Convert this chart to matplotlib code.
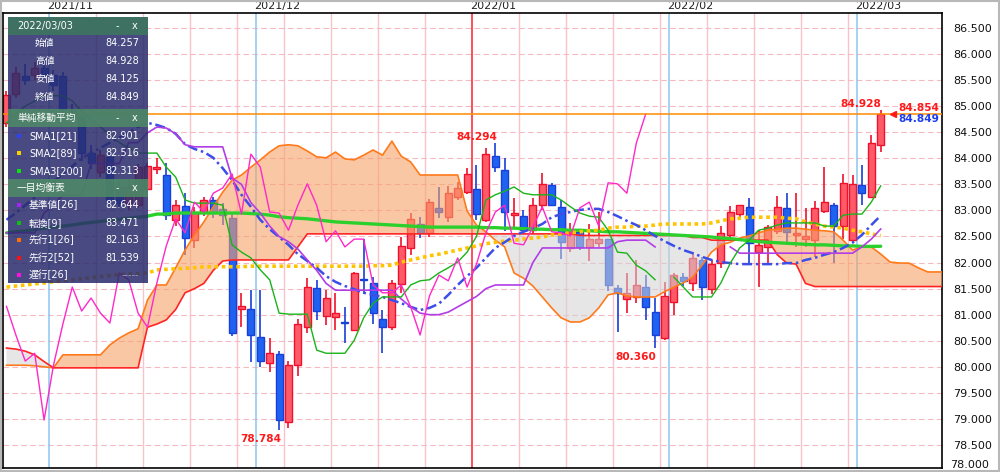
import numpy as np
import pandas as pd
import matplotlib

matplotlib.use("Agg")
import matplotlib.pyplot as plt
from matplotlib.patches import Rectangle
from matplotlib.ticker import FormatStrFormatter

plt.rcParams["font.family"] = ["DejaVu Sans", "Noto Sans CJK JP"]

nan = float("nan")

# trading days (weekdays) 2021/10/25 .. 2022/03/03
dates = pd.bdate_range("2021-10-25", "2022-03-03")

opens = [84.68, 85.23, 85.58, 85.60, 85.73, 85.60, 85.58, 84.93, 84.79, 84.10,
         83.74, 84.03, 83.45, 83.14, 83.10, 83.41, 83.79, 83.68, 82.82, 83.09,
         82.43, 82.97, 83.20, 83.03, 82.86, 81.10, 81.11, 80.57, 80.07, 80.25,
         78.94, 80.04, 80.77, 81.51, 80.98, 80.95, 80.86, 80.71, 81.68, 81.61,
         80.92, 80.76, 81.59, 82.28, 82.74, 82.57, 83.05, 82.87, 83.26, 83.35,
         83.41, 82.82, 84.05, 83.78, 82.91, 82.89, 82.62, 83.10, 83.49, 83.07,
         82.28, 82.59, 82.30, 82.37, 82.45, 81.51, 81.30, 81.34, 81.53, 81.05,
         80.55, 81.24, 81.72, 81.61, 82.05, 81.49, 81.99, 82.53, 82.93, 83.07,
         82.20, 82.30, 82.61, 83.05, 82.53, 82.45, 82.43, 82.99, 83.10, 82.70,
         82.43, 83.49, 83.26, 84.257]
highs = [85.30, 85.75, 85.80, 85.85, 85.95, 85.70, 85.65, 85.05, 84.95, 84.25,
         84.15, 84.10, 83.55, 83.60, 83.90, 83.91, 84.00, 83.91, 83.20, 83.33,
         83.07, 83.25, 83.25, 83.15, 82.95, 81.42, 81.47, 81.47, 80.55, 80.30,
         80.12, 80.92, 81.70, 81.67, 81.47, 81.42, 81.15, 81.82, 82.45, 81.72,
         81.09, 81.67, 82.49, 82.95, 82.88, 83.22, 83.45, 83.47, 83.55, 83.82,
         83.87, 84.20, 84.294, 84.00, 83.24, 83.00, 83.24, 83.72, 83.52, 83.20,
         82.75, 82.65, 82.74, 82.97, 82.45, 81.57, 81.80, 82.05, 81.76, 81.32,
         81.63, 81.80, 81.80, 82.20, 82.11, 82.05, 82.70, 83.09, 83.10, 83.24,
         82.62, 82.72, 83.27, 83.33, 83.33, 83.05, 83.18, 83.83, 83.14, 83.70,
         83.68, 83.87, 84.45, 84.928]
lows = [84.60, 85.15, 85.40, 85.50, 85.55, 85.30, 84.85, 84.60, 83.95, 83.80,
        83.65, 83.10, 83.05, 83.00, 83.05, 83.33, 83.70, 82.82, 82.70, 82.14,
        82.28, 82.90, 82.85, 82.72, 80.60, 80.76, 80.09, 80.00, 79.90, 78.784,
        78.83, 79.82, 80.65, 80.90, 80.80, 80.71, 80.46, 80.69, 81.40, 80.82,
        80.26, 80.70, 81.42, 82.14, 82.47, 82.49, 82.85, 82.78, 83.20, 83.31,
        82.82, 82.78, 83.74, 82.60, 82.66, 82.55, 82.55, 83.00, 83.10, 82.07,
        82.20, 82.25, 82.03, 82.30, 81.46, 80.67, 81.03, 81.22, 80.90, 80.36,
        80.51, 81.00, 81.55, 81.45, 81.28, 81.40, 81.90, 82.45, 82.85, 81.99,
        81.53, 81.95, 82.55, 82.34, 82.30, 82.30, 82.11, 82.95, 81.99, 82.45,
        82.40, 83.10, 83.24, 84.125]
closes = [85.21, 85.64, 85.50, 85.73, 85.62, 85.40, 84.93, 84.80, 84.10, 83.91,
          84.06, 83.20, 83.14, 83.45, 83.83, 83.85, 83.83, 82.91, 83.10, 82.47,
          82.97, 83.20, 82.97, 82.91, 80.65, 81.16, 80.61, 80.11, 80.26, 78.98,
          80.03, 80.82, 81.53, 81.07, 81.32, 81.03, 80.84, 81.80, 81.67, 81.03,
          80.76, 81.61, 82.32, 82.84, 82.57, 83.16, 82.97, 83.33, 83.43, 83.70,
          82.93, 84.08, 83.83, 82.97, 82.95, 82.62, 83.10, 83.51, 83.10, 82.40,
          82.61, 82.30, 82.45, 82.45, 81.57, 81.42, 81.42, 81.57, 81.15, 80.61,
          81.36, 81.76, 81.65, 82.09, 81.53, 81.97, 82.57, 82.97, 83.10, 82.37,
          82.34, 82.68, 83.07, 82.59, 82.57, 82.51, 83.05, 83.16, 82.70, 83.53,
          83.51, 83.33, 84.29, 84.849]

sma1 = [82.82, 82.95, 83.10, 83.25, 83.40, 83.55, 83.70, 83.85, 84.00, 84.10,
        84.20, 84.30, 84.40, 84.50, 84.60, 84.68, 84.64, 84.58, 84.47, 84.27,
        84.18, 84.12, 84.01, 83.81, 83.58, 83.30, 83.07, 82.82, 82.64, 82.49,
        82.34, 82.16, 82.03, 81.90, 81.74, 81.63, 81.55, 81.49, 81.42, 81.38,
        81.34, 81.28, 81.22, 81.15, 81.09, 81.13, 81.21, 81.38, 81.57, 81.74,
        81.90, 82.09, 82.28, 82.39, 82.51, 82.59, 82.66, 82.74, 82.87, 82.93,
        82.97, 83.01, 83.03, 83.03, 82.97, 82.89, 82.80, 82.72, 82.62, 82.51,
        82.41, 82.32, 82.24, 82.18, 82.11, 82.05, 82.01, 81.99, 81.97, 81.97,
        81.97, 81.97, 81.97, 81.99, 81.99, 82.05, 82.09, 82.15, 82.20, 82.28,
        82.38, 82.53, 82.72, 82.901]
sma2 = [81.53, 81.55, 81.57, 81.59, 81.61, 81.63, 81.65, 81.67, 81.69, 81.71,
        81.73, 81.75, 81.77, 81.78, 81.79, 81.80, 81.86, 81.87, 81.88, 81.89,
        81.90, 81.92, 81.92, 81.92, 81.92, 81.92, 81.93, 81.93, 81.93, 81.93,
        81.93, 81.93, 81.93, 81.93, 81.93, 81.93, 81.93, 81.93, 81.93, 81.94,
        81.94, 81.95, 82.01, 82.05, 82.09, 82.13, 82.16, 82.20, 82.24, 82.28,
        82.32, 82.36, 82.39, 82.41, 82.43, 82.45, 82.47, 82.49, 82.53, 82.55,
        82.57, 82.59, 82.61, 82.62, 82.66, 82.68, 82.68, 82.70, 82.70, 82.72,
        82.74, 82.74, 82.74, 82.74, 82.74, 82.76, 82.80, 82.84, 82.85, 82.87,
        82.87, 82.87, 82.87, 82.85, 82.84, 82.78, 82.74, 82.70, 82.68, 82.66,
        82.62, 82.59, 82.55, 82.516]
sma3 = [82.57, 82.59, 82.61, 82.63, 82.66, 82.68, 82.70, 82.72, 82.75, 82.77,
        82.79, 82.81, 82.83, 82.85, 82.87, 82.89, 82.93, 82.93, 82.95, 82.95,
        82.95, 82.95, 82.95, 82.95, 82.95, 82.95, 82.94, 82.93, 82.91, 82.88,
        82.86, 82.85, 82.84, 82.82, 82.80, 82.78, 82.77, 82.76, 82.75, 82.74,
        82.73, 82.72, 82.71, 82.70, 82.69, 82.68, 82.68, 82.68, 82.68, 82.68,
        82.68, 82.67, 82.67, 82.66, 82.66, 82.65, 82.64, 82.64, 82.63, 82.63,
        82.62, 82.62, 82.61, 82.60, 82.59, 82.59, 82.58, 82.57, 82.56, 82.55,
        82.54, 82.53, 82.52, 82.51, 82.50, 82.49, 82.47, 82.46, 82.44, 82.42,
        82.40, 82.39, 82.38, 82.37, 82.36, 82.35, 82.34, 82.34, 82.33, 82.32,
        82.32, 82.31, 82.31, 82.313]

kijun = [82.57, 82.57, 82.57, 82.57, 82.95, 83.10, 83.30, 83.30, 83.30, 83.90,
         83.90, 83.90, 83.90, 84.30, 84.30, 84.49, 84.60, 84.58, 84.47, 84.26,
         84.22, 84.22, 84.22, 84.22, 83.62, 83.50, 83.15, 82.95, 82.70, 82.50,
         82.40, 82.26, 82.05, 81.85, 81.60, 81.47, 81.47, 81.47, 81.47, 81.47,
         81.47, 81.47, 81.30, 81.15, 81.03, 81.00, 81.00, 81.05, 81.15, 81.25,
         81.35, 81.50, 81.57, 81.57, 81.57, 81.57, 82.00, 82.28, 82.28, 82.28,
         82.28, 82.28, 82.28, 82.28, 82.28, 82.40, 82.43, 82.43, 82.43, 82.30,
         nan, nan, nan, nan, nan, nan, nan, 82.30, 82.18, 82.18,
         82.18, 82.18, 82.18, 82.18, 82.18, 82.18, 82.18, 82.18, 82.18, 82.18,
         82.18, 82.30, 82.45, 82.644]
tenkan = [84.68, 84.85, 85.00, 85.10, 85.20, 85.20, 85.20, 85.10, 84.90, 84.75,
          84.60, 84.45, 84.30, 84.20, 84.10, 84.10, 84.10, 83.83, 83.64, 83.20,
          83.14, 83.14, 83.14, 83.10, 82.34, 82.20, 82.09, 81.86, 81.67, 81.03,
          81.01, 81.01, 81.01, 80.32, 80.26, 80.26, 80.26, 80.51, 80.94, 81.22,
          81.34, 81.34, 81.34, 81.57, 81.65, 81.67, 81.80, 81.90, 82.01, 82.20,
          82.50, 83.20, 83.30, 83.37, 83.45, 83.33, 83.30, 83.30, 83.30, 83.20,
          83.07, 82.95, 82.89, 82.87, 82.62, 82.20, 82.18, 81.95, 81.84, 81.67,
          nan, 81.72, 81.53, 81.34, 81.34, 81.34, 81.61, 81.99, 82.28, 82.43,
          82.62, 82.66, 82.72, 82.76, 82.76, 82.76, 82.76, 82.70, 82.70, 82.91,
          82.93, 82.93, 83.16, 83.471]
# leading spans, plotted from bar 0 up to bar 100 (cloud runs past the last candle)
senkou_a = [80.03, 80.03, 80.03, 80.02, 80.00, 79.98, 80.23, 80.23, 80.23, 80.23,
            80.23, 80.42, 80.55, 80.65, 80.73, 81.28, 81.57, 81.57, 81.90, 82.24,
            82.53, 82.78, 83.07, 83.35, 83.58, 83.68, 83.83, 83.97, 84.12, 84.24,
            84.26, 84.24, 84.14, 84.03, 84.01, 84.12, 83.99, 83.97, 84.06, 84.16,
            84.06, 84.33, 84.04, 83.93, 83.68, 83.68, 83.68, 83.68, 83.68, 82.99,
            82.72, 82.59, 82.43, 82.30, 81.80, 81.70, 81.55, 81.34, 81.13, 80.94,
            80.86, 80.86, 80.94, 81.13, 81.38, 81.42, 81.36, 81.34, 81.34, 81.34,
            81.44, 81.53, 81.61, 81.72, 81.95, 82.20, 82.34, 82.39, 82.47, 82.51,
            82.57, 82.62, 82.64, 82.66, 82.66, 82.64, 82.62, 82.61, 82.59, 82.43,
            82.24, 82.30, 82.30, 82.163, 82.01, 81.99, 81.99, 81.90, 81.82, 81.82,
            81.82]
senkou_b = [80.36, 80.34, 80.30, 80.23, 80.10, 79.98, 79.98, 79.98, 79.98, 79.98,
            79.98, 79.98, 79.98, 79.98, 79.98, 80.76, 80.82, 80.90, 81.10, 81.42,
            81.50, 81.60, 81.85, 82.03, 82.05, 82.05, 82.05, 82.05, 82.05, 82.05,
            82.05, 82.30, 82.55, 82.55, 82.55, 82.55, 82.55, 82.55, 82.55, 82.55,
            82.55, 82.55, 82.55, 82.55, 82.55, 82.55, 82.55, 82.55, 82.55, 82.55,
            82.55, 82.55, 82.55, 82.55, 82.55, 82.55, 82.55, 82.55, 82.55, 82.55,
            82.55, 82.52, 82.52, 82.52, 82.52, 82.52, 82.52, 82.52, 82.52, 82.52,
            82.52, 82.52, 82.52, 82.48, 82.48, 82.43, 82.43, 82.43, 82.43, 82.43,
            82.43, 82.43, 82.15, 81.99, 81.97, 81.60, 81.54, 81.54, 81.54, 81.54,
            81.54, 81.54, 81.54, 81.539, 81.54, 81.54, 81.54, 81.54, 81.54, 81.54,
            81.54]
chikou_shift = 25

month_names = ["2021/11", "2021/12", "2022/01", "2022/02", "2022/03"]
y_ticks = [78.5, 79.0, 79.5, 80.0, 80.5, 81.0, 81.5, 82.0, 82.5, 83.0, 83.5,
           84.0, 84.5, 85.0, 85.5, 86.0, 86.5]

UP_FILL, UP_EDGE = "#ff5a68", "#f0102c"
DN_FILL, DN_EDGE = "#1f62f2", "#1840d6"

fig = plt.figure(figsize=(10, 4.72), dpi=100)
ax = fig.add_axes([0.003, 0.0085, 0.939, 0.964])

x = np.arange(len(closes))
o, h, l, c = map(np.array, (opens, highs, lows, closes))
n = len(c)

# vertical grid: mondays pink, month starts blue, new year red
month_start = [i for i in range(1, n) if dates[i].month != dates[i - 1].month]
for i in range(n):
    if i in month_start:
        col = "#ff1e2e" if dates[i].month == 1 else "#8cc6f0"
        ax.axvline(i - 0.5, color=col, lw=1.1, zorder=1)
    elif dates[i].weekday() == 0:
        ax.axvline(i - 0.5, color="#f8c4cc", lw=1.0, zorder=0.8)
for v in y_ticks:
    ax.axhline(v, color="#f6b8c2", lw=0.8, ls=(0, (5, 3)), zorder=0.8)

# candles
up = c >= o
ax.vlines(x[up], l[up], h[up], color=UP_EDGE, lw=1.2, zorder=2)
ax.vlines(x[~up], l[~up], h[~up], color=DN_EDGE, lw=1.2, zorder=2)
lo = np.minimum(o, c)
hh = np.maximum(np.abs(c - o), 0.018)
ax.bar(x[up], hh[up], bottom=lo[up], width=0.76, color=UP_FILL,
       edgecolor=UP_EDGE, lw=1.0, zorder=2.5)
ax.bar(x[~up], hh[~up], bottom=lo[~up], width=0.76, color=DN_FILL,
       edgecolor=DN_EDGE, lw=1.0, zorder=2.5)

# ichimoku cloud
xs = np.arange(len(senkou_a))
a = np.array(senkou_a)
b = np.array(senkou_b)
ax.fill_between(xs, a, b, where=a >= b, interpolate=True, color="#f7a26a",
                alpha=0.6, lw=0, zorder=3)
ax.fill_between(xs, a, b, where=a < b, interpolate=True, color="#d2d2d2",
                alpha=0.55, lw=0, zorder=3)
ax.plot(xs, a, color="#ff7a1a", lw=1.2, zorder=4)
ax.plot(xs, b, color="#ff2424", lw=1.2, zorder=4)

# moving averages
ax.plot(x, sma3, color="#2cd02c", lw=2.4, zorder=4, solid_capstyle="round")
ax.plot(x, sma2, color="#ffc400", lw=2.6, ls=(0, (1, 1)), zorder=4)
ax.plot(x, sma1, color="#3c4ee8", lw=1.8, ls=(0, (4, 1.5, 1, 1.5)), zorder=4)

# ichimoku lines
ax.plot(x, kijun, color="#b23ce6", lw=1.2, zorder=4.2)
ax.plot(x, tenkan, color="#18b418", lw=1.0, zorder=4.2)
ax.plot(x[: n - chikou_shift], c[chikou_shift:], color="#ff28c8", lw=1.0, zorder=4.2)

# current price line
ax.axhline(c[-1], color="#ff8c00", lw=1.1, zorder=4.5)

# high / low annotations
lab = dict(color="#ff1a1a", fontsize=7.6, fontweight="bold", zorder=6)
i_hi = int(np.argmax(h[40:60])) + 40
ax.text(i_hi + 0.25, h[i_hi] + 0.02, f"{h[i_hi]:.3f}", ha="right", va="bottom", **lab)
ax.text(n - 1 + 0.1, h[-1] + 0.02, f"{h[-1]:.3f}", ha="right", va="bottom", **lab)
i_lo = int(np.argmin(l))
ax.text(i_lo + 0.2, l[i_lo] - 0.08, f"{l[i_lo]:.3f}", ha="right", va="top", **lab)
i_lo2 = int(np.argmin(l[60:80])) + 60
ax.text(i_lo2 + 0.1, l[i_lo2] - 0.08, f"{l[i_lo2]:.3f}", ha="right", va="top", **lab)
ax.plot([n - 1 + 1.35], [c[-1]], marker="<", color="#ff1a1a", ms=4.5, zorder=6)
ax.text(n - 1 + 1.9, 84.97, "84.854", ha="left", va="center", **lab)
ax.text(n - 1 + 1.9, 84.76, f"{c[-1]:.3f}", ha="left", va="center",
        color="#1c3cf0", fontsize=7.6, fontweight="bold", zorder=6)

# axes
ax.set_xlim(-0.37, 99.52)
ax.set_ylim(78.059, 86.788)
ax.set_xticks([])
ax.yaxis.tick_right()
ax.set_yticks(y_ticks)
ax.yaxis.set_major_formatter(FormatStrFormatter("%.3f"))
ax.tick_params(axis="y", length=0, pad=8, labelsize=8, labelcolor="#111111")
for s in ax.spines.values():
    s.set_color("black")
    s.set_linewidth(1.2)
for i, name in zip(month_start, month_names):
    ax.text(i - 0.7, 1.016, name, transform=ax.get_xaxis_transform(),
            ha="left", va="center", fontsize=8, color="#222222")

# overlay in pixel coordinates: info panel and frame
ov = fig.add_axes([0, 0, 1, 1], zorder=10)
ov.set_xlim(0, 1000)
ov.set_ylim(472, 0)
ov.axis("off")
ov.add_patch(Rectangle((0.5, 0.5), 998.5, 470.5, fill=False, ec="#b8b8b8", lw=1.5))
ov.text(950, 470, "78.000", fontsize=8, color="#111111", va="bottom", ha="left")

ov.add_patch(Rectangle((8, 17), 140, 266, fc="#2a2c6c", alpha=0.86, lw=0))
ov.add_patch(Rectangle((8, 17), 140, 18, fc="#3f7462", alpha=0.95, lw=0))
for y0 in (109, 179):
    ov.add_patch(Rectangle((8, y0), 140, 18, fc="#4f8c66", alpha=0.85, lw=0))
tx = dict(color="white", fontsize=7, va="center")
headers = [(dates[-1].strftime("%Y/%m/%d"), 26), ("単純移動平均", 118), ("一目均衡表", 188)]
for txt, yy in headers:
    ov.text(17, yy, txt, ha="left", **tx)
    ov.text(117, yy, "-", ha="center", **tx)
    ov.text(135, yy, "x", ha="center", **tx)

ohlc_rows = [("始値", o[-1]), ("高値", h[-1]), ("安値", l[-1]), ("終値", c[-1])]
for (name, val), yy in zip(ohlc_rows, (43, 61, 79, 97)):
    ov.text(35, yy, name, ha="left", **tx)
    ov.text(139, yy, f"{val:.3f}", ha="right", **tx)

ind_rows = [
    ("SMA1[21]", sma1[-1], "#2a44ff", 136),
    ("SMA2[89]", sma2[-1], "#ffd000", 153),
    ("SMA3[200]", sma3[-1], "#10e010", 171),
    ("基準値[26]", kijun[-1], "#a424f0", 205),
    ("転換[9]", tenkan[-1], "#10c010", 223),
    ("先行1[26]", senkou_a[n - 1], "#ff7000", 240),
    ("先行2[52]", senkou_b[n - 1], "#ff1010", 258),
    ("遅行[26]", None, "#ff10e0", 275),
]
for name, val, col, yy in ind_rows:
    ov.add_patch(Rectangle((16.5, yy - 2), 4, 4, fc=col, lw=0))
    ov.text(29, yy, name, ha="left", **tx)
    if val is None:
        ov.text(139, yy, "-----", ha="right", color="#9a9ab8", fontsize=7, va="center")
    else:
        ov.text(139, yy, f"{val:.3f}", ha="right", **tx)

fig.savefig("out.png", dpi=100)
